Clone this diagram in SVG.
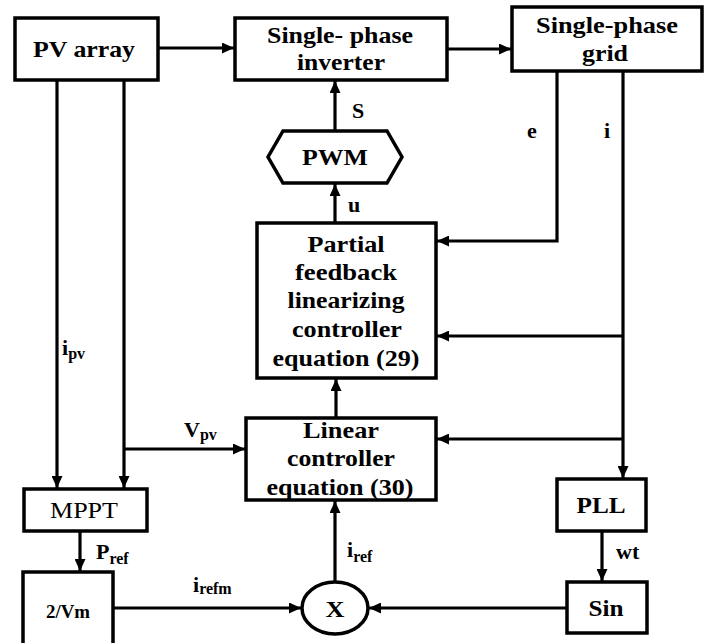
<svg xmlns="http://www.w3.org/2000/svg" width="707" height="643" viewBox="0 0 707 643">
<style>
.box{fill:#fff;stroke:#000;stroke-width:3.5}
.ln{fill:none;stroke:#000;stroke-width:3.2}
.t{font-family:"Liberation Serif","Times New Roman",serif;font-weight:bold;font-size:23px;fill:#000;text-anchor:middle}
.r{font-weight:normal}
.l{font-family:"Liberation Serif","Times New Roman",serif;font-weight:bold;font-size:22px;fill:#000}
.sub{font-size:16px}
</style>
<defs>
<marker id="ah" markerUnits="userSpaceOnUse" markerWidth="13" markerHeight="11" refX="12" refY="5.5" orient="auto">
<path d="M0,0 L12,5.5 L0,11 z" fill="#000"/>
</marker>
</defs>
<rect width="707" height="643" fill="#fff"/>
<g id="connectors">
<path class="ln" d="M158,48 H234" marker-end="url(#ah)"/>
<path class="ln" d="M447,49 H511" marker-end="url(#ah)"/>
<path class="ln" d="M335,131 V81" marker-end="url(#ah)"/>
<path class="ln" d="M335,223 V184" marker-end="url(#ah)"/>
<path class="ln" d="M557,71 V241 H437" marker-end="url(#ah)"/>
<path class="ln" d="M623,71 V478" marker-end="url(#ah)"/>
<path class="ln" d="M623,336 H437" marker-end="url(#ah)"/>
<path class="ln" d="M623,439 H437" marker-end="url(#ah)"/>
<path class="ln" d="M57,80 V488" marker-end="url(#ah)"/>
<path class="ln" d="M124,80 V488" marker-end="url(#ah)"/>
<path class="ln" d="M124,449 H245" marker-end="url(#ah)"/>
<path class="ln" d="M336,418 V379" marker-end="url(#ah)"/>
<path class="ln" d="M80,531 V571" marker-end="url(#ah)"/>
<path class="ln" d="M113,608 H301" marker-end="url(#ah)"/>
<path class="ln" d="M335,582 V501" marker-end="url(#ah)"/>
<path class="ln" d="M602,531 V581" marker-end="url(#ah)"/>
<path class="ln" d="M567,608 H369" marker-end="url(#ah)"/>
</g>
<g id="pv">
<rect class="box" x="15" y="18" width="143" height="62"/>
<text class="t" x="84" y="57" textLength="102" lengthAdjust="spacingAndGlyphs">PV array</text>
</g>
<g id="inverter">
<rect class="box" x="235" y="18" width="212" height="62"/>
<text class="t" x="340" y="43" textLength="146" lengthAdjust="spacingAndGlyphs">Single- phase</text>
<text class="t" x="341" y="70" textLength="88" lengthAdjust="spacingAndGlyphs">inverter</text>
</g>
<g id="grid">
<rect class="box" x="512" y="7" width="190" height="64"/>
<text class="t" x="607" y="33" textLength="142" lengthAdjust="spacingAndGlyphs">Single-phase</text>
<text class="t" x="605" y="61" textLength="46" lengthAdjust="spacingAndGlyphs">grid</text>
</g>
<g id="pwm">
<polygon class="box" points="283,131 387,131 402,157 387,183 283,183 268,157"/>
<text class="t" x="335" y="165" textLength="66" lengthAdjust="spacingAndGlyphs">PWM</text>
</g>
<g id="partial">
<rect class="box" x="257" y="223" width="179" height="155"/>
<text class="t" x="346" y="252" textLength="77" lengthAdjust="spacingAndGlyphs">Partial</text>
<text class="t" x="346" y="280" textLength="102" lengthAdjust="spacingAndGlyphs">feedback</text>
<text class="t" x="346" y="308" textLength="117" lengthAdjust="spacingAndGlyphs">linearizing</text>
<text class="t" x="347" y="337" textLength="110" lengthAdjust="spacingAndGlyphs">controller</text>
<text class="t" x="346" y="366" textLength="147" lengthAdjust="spacingAndGlyphs">equation (29)</text>
</g>
<g id="linear">
<rect class="box" x="246" y="418" width="190" height="82"/>
<text class="t" x="341" y="438" textLength="76" lengthAdjust="spacingAndGlyphs">Linear</text>
<text class="t" x="341" y="466" textLength="108" lengthAdjust="spacingAndGlyphs">controller</text>
<text class="t" x="340" y="495" textLength="147" lengthAdjust="spacingAndGlyphs">equation (30)</text>
</g>
<g id="mppt">
<rect class="box" x="24" y="489" width="123" height="42"/>
<text class="t r" x="84" y="518" textLength="68" lengthAdjust="spacingAndGlyphs">MPPT</text>
</g>
<g id="vm">
<rect class="box" x="23" y="572" width="90" height="80"/>
<text class="t" x="68" y="618" style="font-size:19px" textLength="44" lengthAdjust="spacingAndGlyphs">2/Vm</text>
</g>
<g id="mult">
<ellipse class="box" cx="335" cy="608" rx="33" ry="26"/>
<text class="t" x="335" y="617" textLength="19" lengthAdjust="spacingAndGlyphs">X</text>
</g>
<g id="pll">
<rect class="box" x="557" y="479" width="89" height="52"/>
<text class="t" x="601" y="513" textLength="49" lengthAdjust="spacingAndGlyphs">PLL</text>
</g>
<g id="sin">
<rect class="box" x="567" y="582" width="80" height="51"/>
<text class="t" x="606" y="616" textLength="35" lengthAdjust="spacingAndGlyphs">Sin</text>
</g>
<g id="labels">
<text class="l" x="352" y="118">S</text>
<text class="l" x="348" y="212">u</text>
<text class="l" x="527" y="138">e</text>
<text class="l" x="604" y="138">i</text>
<text class="l" x="616" y="559">wt</text>
<text class="l" x="62" y="355">i<tspan class="sub" dy="4">pv</tspan></text>
<text class="l" x="184" y="437">V<tspan class="sub" dy="3">pv</tspan></text>
<text class="l" x="96" y="559">P<tspan class="sub" dy="5">ref</tspan></text>
<text class="l" x="193" y="592">i<tspan class="sub" dy="2">refm</tspan></text>
<text class="l" x="347" y="557">i<tspan class="sub" dy="5">ref</tspan></text>
</g>
</svg>
